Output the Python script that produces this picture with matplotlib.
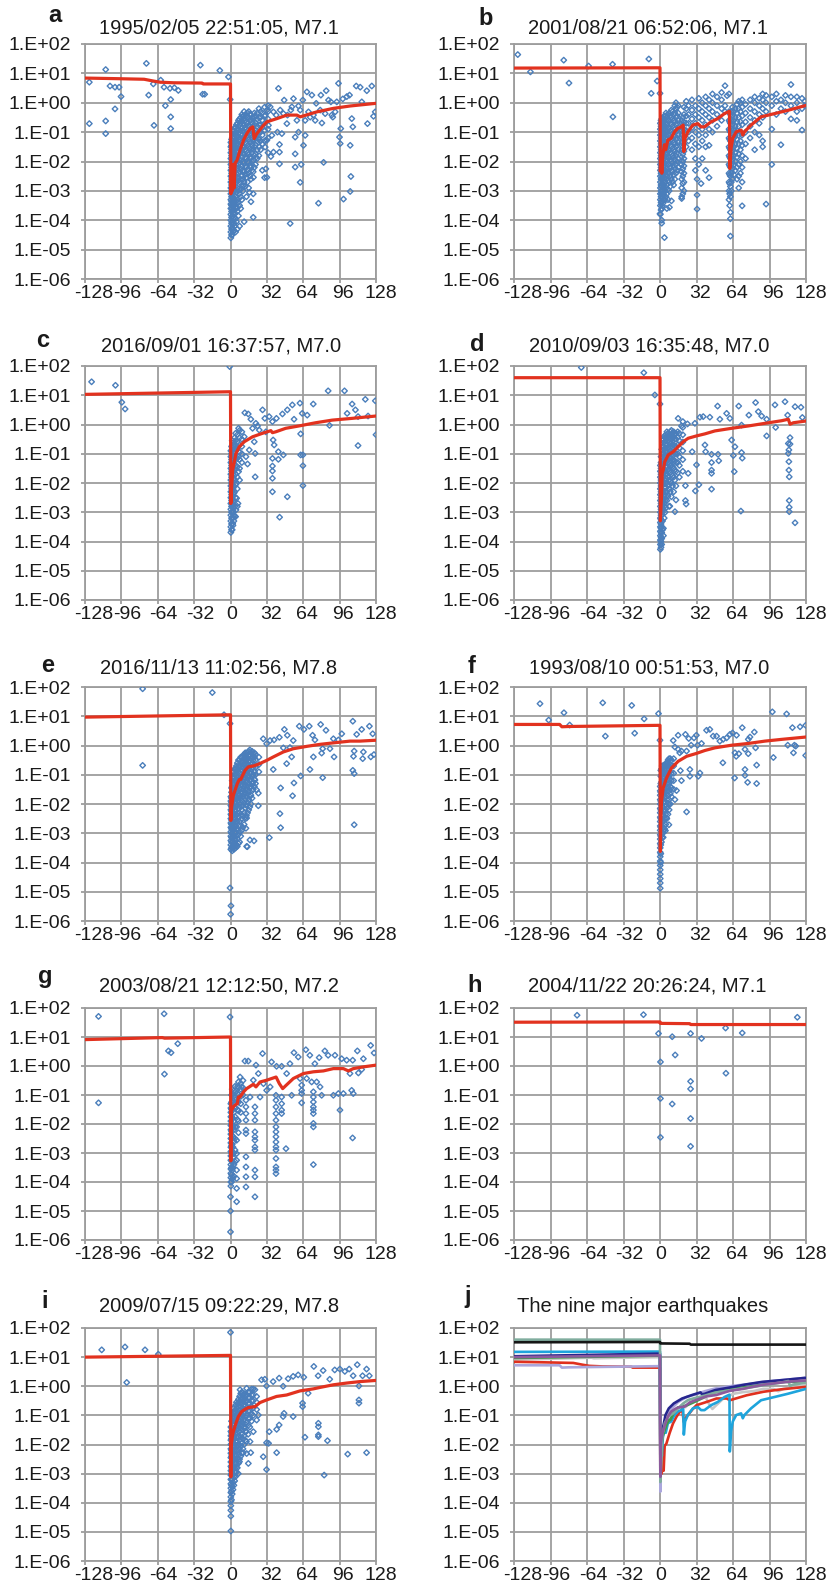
import numpy as np
import matplotlib
matplotlib.use("Agg")
import matplotlib.pyplot as plt
from matplotlib.ticker import FixedLocator, FuncFormatter, NullFormatter
from matplotlib.transforms import ScaledTranslation

plt.rcParams['font.family'] = ['Liberation Sans', 'DejaVu Sans']

# ---------------------------------------------------------------- data
# Scatter points are stored as (day, [log10 values ...]) columns.
TITLES = ["1995/02/05 22:51:05, M7.1", "2001/08/21 06:52:06, M7.1",
          "2016/09/01 16:37:57, M7.0", "2010/09/03 16:35:48, M7.0",
          "2016/11/13 11:02:56, M7.8", "1993/08/10 00:51:53, M7.0",
          "2003/08/21 12:12:50, M7.2", "2004/11/22 20:26:24, M7.1",
          "2009/07/15 09:22:29, M7.8", "The nine major earthquakes"]
LETTERS = list("abcdefghij")
X_TICKS = [-128, -96, -64, -32, 0, 32, 64, 96, 128]
Y_EXPONENTS = [2, 1, 0, -1, -2, -3, -4, -5, -6]

A_PTS = [
    (-124.2, [0.70, -0.71]), (-109.8, [1.13, -0.62, -1.05]), (-106.0, [0.57]),
    (-101.6, [0.53, -0.21]), (-98.0, [0.53]), (-96.3, [0.21]), (-74.0, [1.34]),
    (-72.0, [0.26]), (-67.9, [0.64]), (-67.3, [-0.77]), (-61.4, [0.77]),
    (-58.5, [0.53]), (-57.3, [-0.10]), (-53.2, [0.49]), (-52.6, [0.11, -0.48, -0.88]),
    (-49.4, [0.51]), (-45.9, [0.42]), (-26.5, [1.28]), (-24.5, [0.29]),
    (-22.7, [0.29]), (-9.4, [1.10]), (-1.8, [0.88]), (-0.3, [0.11]),
    (0.3, [-4.6, -4.4, -4.2, -4.0, -3.8, -3.6, -3.45, -3.3, -3.1, -2.9, -2.7, -2.5, -2.3, -2.1, -1.9, -1.7, -1.5, -1.35]),
    (1.5, [-4.5, -4.25, -4.05, -3.85, -3.6, -3.4, -3.2, -2.95, -2.75, -2.5, -2.3, -2.05, -1.85, -1.6, -1.4, -1.2]),
    (3.0, [-4.35, -4.1, -3.9, -3.65, -3.4, -3.15, -2.9, -2.65, -2.4, -2.15, -1.9, -1.65, -1.4, -1.15, -0.95]),
    (4.5, [-4.4, -3.95, -3.55, -3.2, -2.85, -2.5, -2.2, -1.9, -1.6, -1.35, -1.1, -0.85]),
    (6.0, [-4.3, -3.7, -3.3, -2.9, -2.55, -2.25, -1.95, -1.65, -1.4, -1.15, -0.9, -0.7]),
    (8.0, [-4.2, -3.5, -3.1, -2.7, -2.35, -2.05, -1.75, -1.5, -1.25, -1.0, -0.75, -0.55]),
    (10.0, [-3.3, -2.85, -2.5, -2.15, -1.85, -1.6, -1.35, -1.1, -0.85, -0.6, -0.4]),
    (12.0, [-4.05, -2.7, -2.35, -2.05, -1.75, -1.5, -1.25, -1.0, -0.75, -0.55, -0.3]),
    (14.0, [-3.2, -2.55, -2.2, -1.9, -1.65, -1.4, -1.15, -0.9, -0.65, -0.45]),
    (16.0, [-2.9, -2.4, -2.05, -1.75, -1.5, -1.25, -1.0, -0.8, -0.55, -0.3]),
    (18.0, [-3.37, -2.6, -2.2, -1.9, -1.6, -1.35, -1.1, -0.85, -0.6, -0.4]),
    (20.0, [-3.9, -3.1, -2.35, -1.95, -1.6, -1.3, -1.05, -0.8, -0.55]),
    (22.0, [-2.1, -1.75, -1.45, -1.2, -0.95, -0.7, -0.45]),
    (25.0, [-1.8, -1.5, -1.25, -1.0, -0.75, -0.5, -0.2]),
    (28.0, [-2.3, -1.4, -1.1, -0.85, -0.6, -0.35]),
    (30.0, [-2.55, -1.3, -0.95, -0.7, -0.45, -0.15]),
    (33.0, [-1.7, -1.2, -0.9, -0.55, -0.3, -0.1]),
    (11.4, [-2.82]), (14.4, [-2.42]), (16.7, [-3.05]), (20.2, [-2.54]), (22.6, [-1.85]),
    (24.6, [-1.22]), (30.5, [-0.42, -1.51]), (31.1, [-2.25]), (32.0, [-0.25, -1.28, -2.54]),
    (33.4, [-0.77]), (34.9, [-0.14]), (35.5, [-1.83]), (36.4, [-1.11]), (37.8, [-0.31, -1.68]),
    (40.2, [-0.42]), (41.3, [-1.0]), (42.2, [0.49]), (43.1, [-1.42, -1.68, -2.08]),
    (43.7, [-0.25]), (45.2, [-1.05]), (46.6, [-0.37]), (47.2, [0.09]), (49.6, [-0.71]),
    (50.1, [-0.42]), (52.5, [-4.11]), (53.1, [-0.25]), (54.0, [-0.14]), (55.4, [0.14]),
    (56.9, [-1.17, -1.74, -2.19]), (58.4, [-0.60]), (59.8, [-1.0, -0.11]), (61.3, [-2.71, -0.25]),
    (62.2, [-2.1]), (63.6, [0.09]), (64.2, [-1.45]), (65.7, [-0.60, -1.11]), (67.2, [0.37]),
    (68.6, [-0.31]), (70.1, [-0.49]), (71.6, [0.26]), (73.0, [-0.42]), (74.5, [-0.60]),
    (75.4, [-0.02]), (77.4, [-3.42]), (78.9, [-0.25]), (79.5, [0.26]), (80.4, [-0.69]),
    (81.9, [-2.03]), (83.3, [-0.37]), (84.2, [0.41]), (86.2, [0.09]), (88.3, [0.03]),
    (89.1, [-0.42]), (90.0, [-0.49]), (92.1, [-0.31]), (93.5, [0.03]), (95.0, [0.66]),
    (95.9, [-1.17]), (96.5, [-1.39]), (97.0, [-0.88]), (98.8, [0.13]), (99.4, [-3.28]),
    (102.3, [0.21]), (104.7, [0.26]), (105.3, [-1.45, -3.02]), (105.9, [-2.51]),
    (106.7, [-0.54]), (107.6, [-0.82]), (110.6, [0.57]), (114.1, [0.53]), (115.5, [0.03]),
    (119.9, [0.41]), (120.5, [-0.71]), (124.3, [0.57]), (125.8, [-0.46]), (127.3, [-0.31]),
]
A_DENSE = [
    (0.9, [-4.5, -4.3, -4.1, -3.9, -3.7, -3.5, -3.35, -3.2, -3.0, -2.8, -2.6, -2.4, -2.2, -2.0, -1.8, -1.6, -1.45, -1.25]),
    (2.2, [-4.4, -4.15, -3.95, -3.75, -3.5, -3.3, -3.05, -2.85, -2.6, -2.4, -2.2, -1.95, -1.75, -1.5, -1.3, -1.05]),
    (3.7, [-4.2, -3.75, -3.5, -3.3, -3.0, -2.75, -2.5, -2.3, -2.05, -1.8, -1.55, -1.3, -1.05, -0.85]),
    (5.2, [-4.05, -3.6, -3.35, -3.05, -2.7, -2.4, -2.1, -1.8, -1.5, -1.25, -1.0, -0.75]),
    (7.0, [-3.85, -3.4, -3.0, -2.65, -2.4, -2.1, -1.8, -1.55, -1.3, -1.05, -0.8, -0.6]),
    (9.0, [-3.6, -3.2, -2.95, -2.6, -2.25, -1.95, -1.7, -1.45, -1.2, -0.95, -0.7, -0.5]),
    (11.0, [-3.0, -2.6, -2.3, -2.0, -1.7, -1.45, -1.2, -0.95, -0.7, -0.45]),
    (13.0, [-2.85, -2.45, -2.15, -1.85, -1.6, -1.35, -1.1, -0.85, -0.6, -0.4]),
    (15.0, [-2.7, -2.3, -2.0, -1.7, -1.45, -1.2, -0.95, -0.7, -0.5, -0.35]),
    (17.0, [-2.5, -2.15, -1.85, -1.55, -1.3, -1.05, -0.8, -0.6, -0.4]),
    (19.0, [-2.3, -2.0, -1.7, -1.45, -1.2, -0.95, -0.7, -0.5]),
    (21.0, [-2.2, -1.8, -1.5, -1.25, -1.0, -0.75, -0.5, -0.35]),
    (23.5, [-1.9, -1.6, -1.3, -1.05, -0.8, -0.55, -0.35]),
    (26.5, [-1.6, -1.3, -1.0, -0.75, -0.5, -0.3]),
]
A_LINE_X = [-128, -100, -76, -68, -62, -50, -25, -24, -1, 0, 0.3, 1.0, 1.5, 2.5, 3.2, 4.1, 5.6, 8.5,
            11.4, 14.4, 17.3, 19.6, 20.8, 23.2, 29, 32, 40.8, 49.6, 58.4, 61.3, 76, 90.6, 105.3, 128]
A_LINE_L = [0.84, 0.82, 0.80, 0.74, 0.70, 0.68, 0.67, 0.64, 0.64, 0.64, -3.1, -2.2, -3.0, -2.1, -2.9,
            -2.05, -1.97, -1.6, -1.28, -1.05, -0.88, -0.82, -1.22, -1.05, -0.77, -0.65, -0.54, -0.42,
            -0.42, -0.48, -0.31, -0.19, -0.11, -0.02]

B_PTS = [
    (-124.7, [1.64]), (-113.6, [1.05]), (-84.4, [1.45]), (-79.8, [0.67]), (-62.6, [1.25]),
    (-41.6, [1.31]), (-41.3, [-0.48]), (-9.8, [1.49]), (-7.7, [0.32]), (-2.5, [0.74]), (0.0, [0.32, -3.78]),
    (0.3, [-3.8, -3.5, -3.3, -3.1, -2.9, -2.7, -2.5, -2.3, -2.1, -1.9, -1.7, -1.5, -1.3, -1.1, -0.9, -0.7]),
    (1.5, [-4.1, -3.6, -3.35, -3.1, -2.85, -2.6, -2.35, -2.1, -1.85, -1.6, -1.35, -1.1, -0.85, -0.55]),
    (1.6, [-4.0]), (3.9, [-4.59]),
    (3.0, [-3.4, -3.15, -2.9, -2.65, -2.4, -2.15, -1.9, -1.65, -1.4, -1.15, -0.9, -0.6]),
    (4.5, [-3.3, -3.0, -2.7, -2.45, -2.2, -1.95, -1.7, -1.45, -1.2, -0.95, -0.7, -0.45]),
    (6.0, [-3.6, -3.1, -2.8, -2.5, -2.25, -2.0, -1.75, -1.5, -1.25, -1.0, -0.75, -0.5]),
    (8.0, [-3.0, -2.7, -2.4, -2.1, -1.85, -1.6, -1.35, -1.1, -0.85, -0.6, -0.35]),
    (8.3, [-3.56]),
    (10.0, [-3.34, -2.6, -2.3, -2.0, -1.75, -1.5, -1.25, -1.0, -0.75, -0.5, -0.25]),
    (12.0, [-2.8, -2.45, -2.15, -1.85, -1.6, -1.35, -1.1, -0.85, -0.6, -0.4]),
    (14.0, [-2.4, -2.1, -1.8, -1.5, -1.25, -1.0, -0.75, -0.5, -0.2, 0.0]),
    (16.0, [-2.2, -1.9, -1.6, -1.35, -1.1, -0.85, -0.6, -0.35, -0.1]),
    (19.0, [-3.26, -3.2, -2.9, -2.6, -2.35, -2.1, -1.85, -1.6, -1.35, -1.1, -0.85, -0.6]),
    (21.0, [-3.0, -2.7, -2.4, -2.15, -1.9, -1.65, -1.4, -1.15, -0.9, -0.65, -0.4, -0.15]),
    (23.0, [-1.5, -1.2, -0.95, -0.7, -0.45, -0.2, 0.05]),
    (25.0, [-1.3, -1.0, -0.7, -0.4, -0.1]),
    (28.0, [-1.6, -1.2, -0.85, -0.55, -0.25, 0.1]),
    (31.0, [-2.3, -1.9, -1.4, -1.0, -0.7, -0.4, -0.1]),
    (32.5, [-3.62, -3.14, -2.6]),
    (34.0, [-2.1, -1.5, -1.1, -0.8, -0.5, -0.2, 0.15]),
    (36.0, [-2.75]),
    (37.0, [-1.9, -1.3, -0.9, -0.6, -0.3, 0.0]),
    (40.0, [-2.3, -1.5, -1.1, -0.75, -0.4, -0.1, 0.2]),
    (43.0, [-2.55, -1.45, -0.9, -0.5, -0.2, 0.1]),
    (46.0, [-1.0, -0.6, -0.3, 0.0, 0.3]),
    (50.0, [-0.8, -0.4, -0.1, 0.2]),
    (54.0, [-0.6, -0.2, 0.1, 0.35]),
    (57.0, [0.58, -0.3, -0.1]), (58.8, [0.24]),
    (60.5, [-3.3, -3.0, -2.7, -2.4, -2.1, -1.8, -1.5, -1.2, -0.9, -0.6, -0.3, 0.30]),
    (61.7, [-4.54, -3.95, -3.73, -3.2, -2.85, -2.5, -2.2, -1.9, -1.6, -1.3, -1.0, -0.7, -0.4]),
    (63.5, [-2.6, -2.25, -1.95, -1.65, -1.35, -1.05, -0.75, -0.45, -0.15]),
    (66.0, [-2.3, -2.0, -1.7, -1.4, -1.1, -0.8, -0.5, -0.2]),
    (69.0, [-2.9, -2.5, -2.1, -1.75, -1.4, -1.1, -0.8, -0.5, -0.2, 0.05]),
    (72.0, [-3.51, -2.7, -2.2, -1.8, -1.45, -1.1, -0.75, -0.45, -0.15, 0.1]),
    (75.0, [-1.9, -1.4, -1.0, -0.65, -0.35, -0.05]),
    (79.0, [-1.2, -0.8, -0.5, -0.2, 0.1]),
    (83.0, [-1.6, -1.0, -0.6, -0.3, 0.0, 0.2]),
    (87.0, [-1.1, -0.7, -0.4, -0.1, 0.15]),
    (90.0, [-1.5, -1.3, -0.5, -0.2, 0.1, 0.3]),
    (93.0, [-3.45, -0.3, 0.0, 0.25]),
    (98.0, [-2.1, -0.9, -0.1, 0.2]),
    (102.0, [-0.4, 0.05, 0.3]),
    (106.0, [-1.43, -0.2, 0.1]),
    (110.0, [-0.3, 0.0, 0.25]),
    (114.8, [0.62, -0.55, -0.1, 0.2]),
    (120.0, [-0.6, -0.3, 0.0, 0.2]),
    (124.5, [-0.93, -0.2, 0.15]),
    (127.0, [-0.1, 0.05]),
]
B_DENSE = [
    (0.9, [-3.65, -3.4, -3.2, -3.0, -2.8, -2.6, -2.4, -2.2, -2.0, -1.8, -1.6, -1.4, -1.2, -1.0, -0.8, -0.6]),
    (2.2, [-3.5, -3.25, -3.0, -2.75, -2.5, -2.25, -2.0, -1.75, -1.5, -1.25, -1.0, -0.75, -0.5]),
    (3.7, [-3.3, -3.05, -2.8, -2.55, -2.3, -2.05, -1.8, -1.55, -1.3, -1.05, -0.8, -0.55]),
    (5.2, [-3.2, -2.9, -2.6, -2.35, -2.1, -1.85, -1.6, -1.35, -1.1, -0.85, -0.6, -0.35]),
    (7.0, [-3.3, -2.95, -2.65, -2.35, -2.1, -1.85, -1.6, -1.35, -1.1, -0.85, -0.6, -0.4]),
    (9.0, [-2.85, -2.5, -2.2, -1.95, -1.7, -1.45, -1.2, -0.95, -0.7, -0.45]),
    (11.0, [-2.7, -2.35, -2.05, -1.8, -1.55, -1.3, -1.05, -0.8, -0.55, -0.3]),
    (13.0, [-2.6, -2.25, -1.95, -1.65, -1.4, -1.15, -0.9, -0.65, -0.35, -0.1]),
    (15.0, [-2.3, -2.0, -1.7, -1.45, -1.2, -0.95, -0.7, -0.45, -0.15]),
    (20.0, [-3.1, -2.75, -2.5, -2.25, -2.0, -1.75, -1.5, -1.25, -1.0, -0.75, -0.5]),
    (61.1, [-3.5, -3.1, -2.75, -2.45, -2.15, -1.85, -1.55, -1.25, -0.95, -0.65, -0.35]),
    (62.5, [-3.0, -2.7, -2.4, -2.1, -1.8, -1.5, -1.2, -0.9, -0.6, -0.3]),
    (64.8, [-2.45, -2.1, -1.8, -1.5, -1.2, -0.9, -0.6, -0.3]),
    (67.5, [-2.6, -2.2, -1.85, -1.55, -1.25, -0.95, -0.65, -0.35, -0.05]),
    (70.5, [-2.4, -2.0, -1.6, -1.3, -1.0, -0.65, -0.3, 0.0]),
]
B_LINE_X = [-128, 0, 0.3, 1.0, 1.6, 2.5, 3.9, 5.0, 6.9, 9.8, 12.7, 15.6, 18.5, 20.3, 20.9, 22, 24.4, 28.8,
            33.1, 36, 39, 44.8, 50.6, 56.5, 60.9, 61.2, 62.3, 63.8, 66.8, 71.1, 72.6, 74, 79.8, 88.6,
            100.3, 111.9, 128]
B_LINE_L = [1.18, 1.19, -2.33, -1.9, -2.4, -1.77, -1.43, -1.6, -1.27, -1.21, -0.99, -0.87, -0.82, -0.76,
            -1.66, -1.21, -0.99, -0.76, -0.71, -0.82, -0.82, -0.65, -0.54, -0.37, -0.29, -2.24, -1.55,
            -1.21, -0.99, -0.93, -1.10, -0.99, -0.76, -0.48, -0.37, -0.26, -0.09]

C_PTS = [
    (-122.2, [1.46]), (-101.2, [1.34]), (-95.6, [0.76]), (-92.7, [0.53]), (-0.7, [1.98]),
    (0.3, [-3.69, -3.5, -3.3, -3.1, -2.9, -2.7, -2.5, -2.3, -2.1, -1.9, -1.7, -1.5, -1.3, -1.1, -0.9]),
    (1.5, [-3.6, -3.4, -3.2, -3.0, -2.8, -2.55, -2.3, -2.05, -1.8, -1.55, -1.3, -1.05, -0.8, -0.55]),
    (1.9, [-3.38]), (3.6, [-3.15]), (4.8, [-2.92]),
    (3.0, [-3.3, -3.1, -2.85, -2.6, -2.35, -2.1, -1.85, -1.6, -1.35, -1.1, -0.85, -0.6]),
    (4.5, [-3.15, -2.5, -2.05, -1.7, -1.4, -1.1, -0.8, -0.55, -0.3]),
    (6.0, [-2.8, -2.2, -1.8, -1.45, -1.15, -0.85, -0.6, -0.35]),
    (8.0, [-1.9, -1.5, -1.2, -0.95, -0.7, -0.45, -0.2]),
    (10.0, [-1.3, -1.0, -0.75, -0.5, -0.25]),
    (5.4, [-2.01, -2.52]), (6.3, [-0.76]), (6.6, [-2.70]), (7.1, [-0.13, -1.10, -1.61]),
    (12.1, [-0.42]), (12.6, [0.40]), (13.6, [-1.10]), (15.0, [-1.35]), (15.6, [0.36]),
    (16.5, [-0.87]), (17.9, [0.18]), (19.4, [-0.13]), (20.9, [-0.59]), (21.7, [-1.79, -0.99]),
    (22.3, [0.04]), (23.8, [-0.05]), (25.3, [-0.19]), (28.2, [0.50]), (30.2, [0.21]),
    (31.1, [-0.25]), (34.0, [0.27]),
    (36.9, [0.10, -1.16, -1.42, -1.59, -1.84, -2.30]), (37.5, [-0.53]), (38.4, [-0.70]),
    (40.4, [0.21]), (42.1, [-0.93, -1.19]), (43.2, [-3.17]), (45.7, [0.36]), (46.5, [-1.04]),
    (50.0, [0.50, -2.47]), (54.4, [0.67]), (55.9, [0.18]), (61.1, [0.73]),
    (61.7, [-0.32, -1.04]), (63.1, [0.38]), (63.7, [-1.04, -1.41, -2.09]), (67.5, [0.32]),
    (72.8, [0.70]), (85.9, [1.15]), (87.1, [-0.03]), (100.3, [1.15]), (102.6, [0.38]),
    (107.0, [0.70]), (109.9, [0.50]), (112.2, [0.27, -0.72]), (118.6, [0.86]), (121.0, [0.29]),
    (127.4, [0.81]), (128.0, [-0.35]),
]
C_DENSE = [
    (0.9, [-3.6, -3.4, -3.2, -3.0, -2.8, -2.6, -2.4, -2.2, -2.0, -1.8, -1.6, -1.4, -1.2, -1.0, -0.75]),
    (2.2, [-3.45, -3.2, -2.95, -2.7, -2.45, -2.2, -1.95, -1.7, -1.45, -1.2, -0.95, -0.7]),
    (3.7, [-2.8, -2.3, -1.9, -1.55, -1.25, -0.95, -0.7, -0.45]),
]
C_LINE_X = [-128, 0, 0.3, 1.0, 1.9, 3.4, 4.8, 7.7, 12.1, 19.4, 28.2, 35.5, 36.9, 39.8, 48.6, 60.2,
            74.9, 89.5, 107, 128]
C_LINE_L = [1.03, 1.12, -2.70, -2.13, -1.56, -1.27, -0.99, -0.76, -0.59, -0.42, -0.30, -0.21, -0.28,
            -0.25, -0.13, -0.05, 0.06, 0.15, 0.21, 0.29]

D_PTS = [
    (-69.0, [1.95]), (-14.2, [1.77]), (-4.5, [1.01]), (0.0, [0.70]),
    (0.3, [-4.27, -4.1, -3.95, -3.8, -3.65, -3.5, -3.35, -3.2, -3.0, -2.8, -2.6, -2.4, -2.2, -2.0, -1.8, -1.6, -1.4]),
    (1.5, [-4.1, -3.9, -3.7, -3.5, -3.3, -3.1, -2.85, -2.6, -2.35, -2.1, -1.85, -1.6, -1.35, -1.1, -0.85]),
    (3.0, [-3.8, -3.55, -2.9, -2.6, -2.3, -2.0, -1.75, -1.5, -1.25, -1.0, -0.75, -0.5]),
    (3.7, [-2.70]),
    (4.5, [-3.0, -2.6, -2.3, -2.0, -1.7, -1.45, -1.2, -0.95, -0.7, -0.45]),
    (6.0, [-2.6, -2.3, -2.0, -1.7, -1.45, -1.2, -0.95, -0.7, -0.45, -0.25]),
    (8.0, [-2.8, -2.2, -1.9, -1.6, -1.35, -1.1, -0.85, -0.6, -0.35]),
    (8.6, [-2.79]),
    (10.0, [-2.47, -2.0, -1.7, -1.4, -1.15, -0.9, -0.65, -0.4, -0.2]),
    (12.0, [-2.3, -1.8, -1.5, -1.2, -0.95, -0.7, -0.45, -0.25]),
    (13.1, [-2.98]),
    (14.0, [-2.58, -2.1, -1.6, -1.3, -1.0, -0.75, -0.5, -0.3]),
    (15.9, [0.21]),
    (17.0, [-1.8, -1.4, -1.1, -0.8, -0.55, -0.3]),
    (18.8, [-0.05]),
    (20.0, [-1.6, -1.2, -0.9, -0.6, -0.35, -0.1, 0.1]),
    (22.3, [-2.09, -2.60]), (22.9, [-2.72]), (24.1, [0.02]), (24.7, [-1.67]), (28.2, [-0.93]),
    (30.6, [0.04]), (31.0, [-2.27]), (32.0, [-1.38]), (34.1, [-2.06]), (35.0, [0.25]),
    (37.9, [0.27]), (39.4, [-0.70]), (40.0, [-0.93]), (43.7, [0.25]),
    (45.2, [-1.02, -1.30, -1.56, -1.67, -2.21]), (50.5, [0.63]), (50.9, [-1.02]), (51.5, [-1.24]),
    (52.5, [0.18]), (58.4, [0.38]), (61.3, [0.21]), (62.8, [-0.53]), (64.3, [-1.06]),
    (65.1, [-1.61]), (65.7, [-0.76]), (69.0, [0.63]), (70.9, [-2.96]), (71.5, [-0.02, -0.96]),
    (72.1, [-1.15]), (77.9, [0.32]), (83.8, [0.75]), (86.2, [0.44]), (89.1, [0.29]),
    (93.5, [0.18, -0.39]), (100.8, [0.67]), (101.4, [-0.10]), (109.6, [0.78]), (111.9, [0.32]),
    (112.5, [-0.65, -0.99]), (113.0, [-0.87, -1.27, -1.56]), (113.3, [-1.79, -2.60, -2.83, -2.98]),
    (114.0, [-0.67, -0.45]), (118.4, [0.61, -3.36]), (123.6, [0.59]), (124.8, [0.24]),
]
D_DENSE = [
    (0.9, [-4.2, -4.0, -3.85, -3.7, -3.55, -3.4, -3.25, -3.1, -2.9, -2.7, -2.5, -2.3, -2.1, -1.9, -1.7, -1.5, -1.3, -1.1]),
    (2.2, [-3.6, -3.3, -3.0, -2.75, -2.5, -2.25, -2.0, -1.75, -1.5, -1.25, -1.0, -0.75, -0.55]),
    (3.7, [-3.2, -2.8, -2.45, -2.15, -1.9, -1.6, -1.35, -1.1, -0.85, -0.6, -0.4]),
    (5.2, [-2.85, -2.45, -2.15, -1.85, -1.6, -1.3, -1.05, -0.8, -0.55, -0.35]),
    (7.0, [-2.45, -2.1, -1.8, -1.55, -1.3, -1.05, -0.8, -0.55, -0.3]),
    (9.0, [-2.3, -1.95, -1.65, -1.4, -1.15, -0.9, -0.65, -0.45, -0.25]),
    (11.0, [-2.1, -1.75, -1.45, -1.2, -0.95, -0.7, -0.45, -0.3]),
    (13.0, [-1.9, -1.55, -1.25, -1.0, -0.75, -0.5, -0.3]),
    (15.5, [-1.65, -1.3, -1.0, -0.7, -0.45, -0.25]),
]
D_LINE_X = [-128, 0, 0.3, 1.3, 1.9, 2.8, 4.2, 7.2, 11.6, 15.9, 20.3, 24.7, 32, 39.4, 48.1, 62.8, 77.4,
            92, 106.7, 112.5, 114, 116.9, 128]
D_LINE_L = [1.60, 1.60, -3.29, -2.47, -1.67, -1.56, -1.27, -1.04, -0.93, -0.76, -0.59, -0.47, -0.39,
            -0.32, -0.22, -0.13, -0.05, 0.04, 0.13, 0.18, 0.01, 0.06, 0.12]

E_PTS = [
    (-77.3, [1.94, -0.68]), (-16.0, [1.81]), (-5.7, [1.05]), (-0.4, [0.75, -4.87]),
    (0.4, [-5.48]), (0.1, [-5.77]),
    (0.3, [-3.55, -3.4, -3.25, -3.1, -2.95, -2.8, -2.65, -2.5, -2.35, -2.2, -2.05, -1.9, -1.75]),
    (1.5, [-3.6, -3.45, -3.3, -3.15, -3.0, -2.8, -2.6, -2.4, -2.2, -2.0, -1.8, -1.6, -1.4, -1.2]),
    (3.0, [-3.55, -3.35, -3.1, -2.85, -2.6, -2.35, -2.1, -1.85, -1.6, -1.35, -1.1, -0.9]),
    (4.5, [-3.5, -3.25, -3.0, -2.75, -2.5, -2.25, -2.0, -1.75, -1.5, -1.25, -1.0, -0.8]),
    (6.0, [-3.45, -3.2, -2.9, -2.6, -2.3, -2.05, -1.8, -1.55, -1.3, -1.05, -0.8, -0.6]),
    (8.0, [-3.3, -2.95, -2.6, -2.3, -2.0, -1.7, -1.45, -1.2, -0.95, -0.7, -0.5]),
    (8.4, [-1.74]),
    (10.0, [-2.9, -2.5, -2.2, -1.9, -1.6, -1.35, -1.1, -0.85, -0.6, -0.4]),
    (12.0, [-2.7, -2.3, -1.95, -1.65, -1.4, -1.15, -0.9, -0.65, -0.45, -0.3]),
    (12.8, [-1.63]), (13.6, [-2.83]), (14.2, [-3.45, -2.48]), (14.8, [-3.46]),
    (14.0, [-2.4, -2.05, -1.75, -1.5, -1.25, -1.0, -0.75, -0.5, -0.3]),
    (16.0, [-2.2, -1.85, -1.55, -1.3, -1.05, -0.8, -0.55, -0.35, -0.2]),
    (17.1, [-3.23]),
    (18.0, [-2.0, -1.7, -1.4, -1.15, -0.9, -0.65, -0.45, -0.25]),
    (20.0, [-1.5, -1.25, -1.0, -0.75, -0.5, -0.3]),
    (20.7, [-3.26]), (21.5, [-1.18]),
    (22.0, [-1.3, -1.0, -0.75, -0.5, -0.3]), (23.0, [-1.52]),
    (24.5, [-2.06, -1.63]), (25.0, [-0.9, -0.65, -0.4]),
    (28.8, [0.23]), (31.8, [0.06]), (34.2, [-3.15]), (34.8, [0.17]), (37.6, [-0.82]),
    (38.3, [0.19]), (43.0, [0.28]), (43.5, [-2.33]), (44.1, [-1.45, -2.81]), (46.5, [-0.08]),
    (47.4, [0.55]), (49.4, [-0.62]), (50.0, [0.35]), (52.3, [-0.07]), (53.8, [-0.39]),
    (54.6, [-1.72]), (55.2, [0.17]), (55.8, [-1.28]), (60.5, [0.66]), (61.7, [-1.04]),
    (64.6, [0.55]), (69.3, [0.66]), (69.9, [-0.82]), (72.2, [0.35]), (72.9, [-0.39]),
    (74.3, [0.19]), (79.3, [0.72]), (80.2, [-0.26]), (81.1, [-0.11, -1.10]), (84.0, [0.52]),
    (87.5, [-0.11]), (90.5, [0.23]), (91.1, [-0.39]), (94.9, [0.19]), (97.9, [0.40]),
    (107.6, [0.83, -0.85]), (108.2, [-0.37]), (108.8, [-0.19, -0.96, -2.71]), (111.0, [0.38]),
    (115.4, [0.55]), (116.3, [-0.45]), (116.9, [-0.22]), (122.2, [0.66]), (123.4, [-0.39]),
    (125.1, [0.40]), (126.2, [-0.31]),
]
E_DENSE = [
    (0.9, [-3.5, -3.3, -3.15, -3.0, -2.85, -2.7, -2.55, -2.4, -2.25, -2.1, -1.95, -1.8, -1.6, -1.45]),
    (2.2, [-3.5, -3.3, -3.05, -2.9, -2.7, -2.5, -2.3, -2.1, -1.9, -1.7, -1.5, -1.3, -1.05]),
    (3.7, [-3.45, -3.2, -2.95, -2.7, -2.45, -2.2, -1.95, -1.7, -1.45, -1.2, -1.0, -0.8]),
    (5.2, [-3.4, -3.1, -2.85, -2.6, -2.35, -2.1, -1.85, -1.6, -1.4, -1.15, -0.9, -0.7]),
    (7.0, [-3.35, -3.05, -2.75, -2.45, -2.15, -1.9, -1.65, -1.4, -1.15, -0.9, -0.7, -0.5]),
    (9.0, [-3.1, -2.75, -2.4, -2.1, -1.8, -1.5, -1.25, -1.0, -0.75, -0.55, -0.4]),
    (11.0, [-2.8, -2.4, -2.05, -1.75, -1.5, -1.25, -1.0, -0.75, -0.55, -0.35]),
    (13.0, [-2.5, -2.15, -1.85, -1.6, -1.35, -1.1, -0.85, -0.6, -0.4, -0.25]),
    (15.0, [-2.3, -1.95, -1.65, -1.4, -1.15, -0.9, -0.65, -0.45, -0.25]),
    (17.0, [-2.1, -1.75, -1.45, -1.2, -0.95, -0.7, -0.5, -0.3, -0.15]),
    (19.0, [-1.8, -1.55, -1.3, -1.05, -0.8, -0.6, -0.4, -0.2]),
    (21.0, [-1.4, -1.15, -0.9, -0.65, -0.4, -0.25]),
]
E_LINE_X = [-128, 0, 0.3, 1.0, 2.5, 4.0, 6.0, 7.8, 9.0, 10.7, 12.8, 15.7, 20.1, 24.5, 31.8, 37.7, 46.5,
            55.3, 67, 78.8, 90.5, 105.1, 113.9, 128]
E_LINE_L = [0.97, 1.05, -2.56, -2.10, -1.70, -1.53, -1.30, -1.16, -1.16, -1.02, -0.85, -0.73, -0.70,
            -0.64, -0.51, -0.39, -0.22, -0.11, -0.03, 0.04, 0.09, 0.15, 0.15, 0.18]

F_PTS = [
    (-105.2, [1.43]), (-97.6, [0.87]), (-84.2, [1.12]), (-79.2, [0.70]), (-50.2, [1.46]),
    (-47.9, [0.32]), (-24.8, [1.37]), (-22.2, [0.42]), (-13.9, [0.91]), (-1.3, [1.09]), (0.0, [0.18]),
    (0.2, [-4.88, -4.7, -4.55, -4.4, -4.25, -4.1, -3.95, -3.8, -3.65, -3.5, -3.35, -3.2, -3.05,
           -2.9, -2.75, -2.6, -2.45, -2.3, -2.15, -2.0, -1.85, -1.7, -1.55, -1.4]),
    (1.3, [-3.3, -3.0, -2.75, -2.5, -2.25, -2.0, -1.75, -1.5, -1.25, -1.0, -0.8]),
    (2.5, [-3.0, -2.7, -2.4, -2.1, -1.85, -1.6, -1.35, -1.1, -0.9, -0.7]),
    (2.8, [-3.14]),
    (4.0, [-2.85, -2.5, -2.2, -1.9, -1.6, -1.35, -1.1, -0.85, -0.65]),
    (4.8, [-2.91]), (5.7, [-2.48]),
    (6.0, [-2.5, -2.15, -1.85, -1.55, -1.3, -1.05, -0.8, -0.6]),
    (7.8, [-2.71]),
    (8.0, [-2.2, -1.85, -1.55, -1.3, -1.05, -0.8, -0.6, -0.45]),
    (8.6, [-2.0]),
    (10.0, [-1.75, -1.45, -1.2, -0.95, -0.7, -0.5]),
    (11.6, [0.17]),
    (12.0, [-1.5, -1.2, -0.95, -0.7, -0.45]),
    (13.0, [-0.05]), (13.1, [-1.85]), (14.5, [-1.54]), (15.9, [0.35, -0.13]), (17.3, [-0.25]),
    (17.9, [-0.86]), (18.8, [-0.19, -1.20]), (22.3, [0.38]), (23.3, [-0.19, -2.27]),
    (25.2, [0.24]), (26.2, [-0.82, -1.05]), (27.3, [0.01]), (29.8, [0.26]), (31.9, [0.35]),
    (32.9, [0.01]), (33.6, [-1.05]), (35.0, [-0.94]), (36.4, [0.07]), (40.8, [0.52]),
    (43.7, [0.55]), (46.6, [0.32]), (49.6, [0.32]), (52.5, [0.15]), (55.1, [-0.59]),
    (55.4, [0.21]), (58.4, [0.26]), (61.3, [0.38]), (63.6, [0.43]), (65.4, [-1.11]),
    (65.7, [-0.25]), (66.8, [-0.37]), (67.1, [0.35]), (69.1, [-0.28]), (72.1, [0.61]),
    (74.5, [-0.13, -0.82, -1.02]), (76.8, [-1.26]), (77.4, [0.21, -0.28]), (78.9, [0.29]),
    (82.7, [0.46]), (83.8, [-0.08]), (84.7, [-0.67, -1.30]), (98.5, [1.15]), (99.4, [-0.41]),
    (111.0, [1.08]), (112.0, [0.01]), (116.1, [0.61]), (117.0, [-0.25]), (117.8, [0.01]),
    (119.0, [-0.02]), (122.8, [0.64]), (127.7, [0.69, -0.34]),
]
F_DENSE = [
    (0.7, [-4.0, -3.7, -3.4, -3.1, -2.8, -2.5, -2.2, -1.9, -1.6, -1.3, -1.05, -0.85]),
    (1.9, [-3.15, -2.85, -2.6, -2.35, -2.1, -1.85, -1.6, -1.35, -1.1, -0.9, -0.7]),
    (3.3, [-2.9, -2.55, -2.25, -1.95, -1.7, -1.45, -1.2, -0.95, -0.75]),
    (5.0, [-2.7, -2.35, -2.05, -1.75, -1.45, -1.2, -0.95, -0.7]),
    (7.0, [-2.35, -2.0, -1.7, -1.45, -1.2, -0.95, -0.7, -0.5]),
    (9.0, [-2.0, -1.65, -1.4, -1.15, -0.9, -0.65, -0.45]),
]
F_LINE_X = [-128, -88, -86, -80, 0, 0.3, 0.7, 1.3, 2.8, 5.7, 10.1, 15.9, 23.3, 32, 39.4, 48.1, 62.8,
            77.4, 92, 106.7, 128]
F_LINE_L = [0.72, 0.72, 0.64, 0.65, 0.69, -3.62, -2.59, -1.91, -1.45, -1.11, -0.77, -0.54, -0.37,
            -0.27, -0.17, -0.08, 0.01, 0.07, 0.15, 0.21, 0.29]

G_PTS = [
    (-116.1, [1.71, -1.27]), (-58.4, [1.80]), (-58.1, [-0.28]), (-54.6, [0.52]), (-52.3, [0.46]),
    (-46.4, [0.77]), (-0.4, [1.69]), (0.0, [-5.72, -5.0, -4.51]),
    (0.3, [-4.14, -4.0, -3.85, -3.7, -3.55, -3.4, -3.25, -3.1, -2.95, -2.8, -2.65, -2.5, -2.35,
           -2.2, -2.05, -1.9, -1.75, -1.6, -1.45, -1.3]),
    (1.5, [-3.9, -3.6, -3.3, -3.0, -2.7, -2.4, -2.1, -1.8, -1.5, -1.25, -1.0, -0.8]),
    (3.0, [-3.8, -3.4, -3.0, -2.6, -2.2, -1.9, -1.6, -1.3, -1.05, -0.85]),
    (5.4, [-2.10, -2.56, -3.02, -3.25, -3.59, -3.88, -4.22, -4.68]),
    (7.0, [-2.3, -1.9, -1.55, -1.25, -1.0, -0.75, -0.55]),
    (8.4, [-0.38]), (9.0, [-1.6, -1.3, -1.05, -0.8, -0.6]), (9.8, [-0.72]),
    (11.0, [-1.0, -0.75, -0.5]), (12.7, [0.17]),
    (13.6, [-1.18, -1.41, -1.64, -1.87, -2.21, -2.33, -3.13, -3.48, -3.82, -4.17]),
    (15.6, [0.17]), (17.2, [-1.07]), (20.1, [-0.49]),
    (21.5, [-1.41, -1.64, -1.87, -2.27, -2.44, -2.56, -2.79, -2.90, -3.59, -3.82, -4.51]),
    (22.4, [0.03]), (24.5, [-0.26]), (26.0, [-1.07]), (28.2, [0.43]), (29.0, [-0.61]),
    (31.8, [-0.84]), (34.9, [-0.72]), (36.1, [0.14]),
    (40.0, [-1.01, -1.18, -1.41, -1.64, -1.87, -2.10, -2.27, -2.44, -2.62, -2.79, -2.90, -3.19,
            -3.48, -3.59, -3.71]),
    (40.5, [-0.01]), (45.0, [-0.01, -1.07, -1.30, -1.52, -1.64]), (48.8, [-2.85]), (49.4, [-0.26]),
    (52.3, [0.08]), (53.8, [-1.01]), (55.8, [0.46]), (59.6, [0.31]), (61.2, [-0.43]),
    (62.6, [-0.66, -0.84, -0.95, -1.27]), (66.3, [0.56]), (67.0, [-0.43]), (69.8, [0.37]),
    (71.4, [-0.55]),
    (72.9, [-0.89, -1.07, -1.24, -1.41, -1.52, -1.64, -1.98, -2.10, -3.40]),
    (74.2, [0.08]), (75.8, [-0.55]), (78.0, [0.29]), (78.8, [-0.72]), (80.2, [-1.01]),
    (83.0, [0.52]), (85.9, [0.37]), (90.5, [-1.01]), (91.9, [0.37]), (94.9, [-0.95]),
    (96.3, [-1.52]), (97.8, [0.25]), (99.3, [-0.95]), (102.2, [0.20]), (105.1, [-0.26]),
    (106.6, [-0.84]), (107.4, [-2.48]), (107.5, [0.20]), (108.0, [-0.95]), (111.6, [0.52]),
    (112.5, [-0.24]), (115.4, [-0.12]), (116.9, [0.25]), (123.3, [0.71]), (126.3, [0.45]),
]
G_DENSE = [
    (0.9, [-4.0, -3.75, -3.5, -3.25, -3.0, -2.75, -2.5, -2.25, -2.0, -1.75, -1.5, -1.25, -1.0]),
    (2.2, [-3.85, -3.5, -3.15, -2.8, -2.45, -2.1, -1.8, -1.5, -1.2, -0.95]),
    (4.0, [-3.3, -2.9, -2.5, -2.1, -1.75, -1.45, -1.15, -0.9, -0.7]),
    (6.2, [-1.85, -1.5, -1.2, -0.95, -0.7]),
]
G_LINE_X = [-128, -60, -58, 0, 0.3, 0.5, 1.0, 2.5, 4.0, 6.0, 6.9, 8.4, 11.3, 14.2, 20.1, 22.4, 26, 31.8,
            36.3, 40.1, 43, 45.9, 48.8, 55.3, 64.1, 72.9, 81.7, 90.5, 99.3, 103.7, 108, 116.9, 128]
G_LINE_L = [0.91, 0.98, 0.96, 1.0, -3.27, -1.64, -1.52, -1.41, -1.35, -1.30, -1.07, -1.07, -0.90, -0.78,
            -0.63, -0.72, -0.55, -0.49, -0.43, -0.38, -0.61, -0.78, -0.67, -0.43, -0.26, -0.20, -0.17,
            -0.09, -0.09, -0.17, -0.09, -0.03, 0.03]

H_PTS = [
    (-72.7, [1.75]), (-14.5, [1.77]), (-1.3, [1.12]), (0.4, [0.14, -1.12, -2.46]),
    (10.7, [1.01, -1.31]), (13.3, [0.38]), (26.8, [1.12, -0.53, -0.79, -1.81, -2.77]),
    (36.4, [0.95]), (57.5, [1.31]), (57.8, [-0.25]), (72.1, [1.14]), (120.4, [1.68]),
]
H_DENSE = []
H_LINE_X = [-128, 0, 0.3, 26, 27, 128]
H_LINE_L = [1.51, 1.52, 1.47, 1.46, 1.43, 1.43]

I_PTS = [
    (-113.3, [1.25]), (-92.8, [1.35]), (-91.3, [0.13]), (-75.2, [1.25]), (-63.5, [1.10]),
    (0.0, [1.85]),
    (0.3, [-4.97, -4.46, -4.26, -4.1, -3.95, -3.8, -3.65, -3.5, -3.35, -3.2, -3.05, -2.9, -2.75,
           -2.6, -2.45, -2.3, -2.15, -2.0, -1.85, -1.7, -1.55, -1.4]),
    (1.5, [-3.7, -3.45, -3.2, -2.95, -2.7, -2.45, -2.2, -1.95, -1.7, -1.45, -1.2, -1.0]),
    (3.0, [-3.4, -3.1, -2.8, -2.5, -2.2, -1.95, -1.7, -1.45, -1.2, -0.95, -0.75]),
    (4.5, [-3.1, -2.8, -2.5, -2.2, -1.9, -1.65, -1.4, -1.15, -0.9, -0.65]),
    (6.0, [-2.8, -2.5, -2.2, -1.9, -1.6, -1.35, -1.1, -0.85, -0.6]),
    (6.9, [-3.0]), (7.9, [-2.59]),
    (8.0, [-2.5, -2.15, -1.85, -1.55, -1.3, -1.05, -0.8, -0.55, -0.35]),
    (8.4, [-0.12]),
    (10.0, [-2.3, -1.95, -1.65, -1.35, -1.1, -0.85, -0.6, -0.4, -0.2]),
    (11.3, [-2.28]),
    (12.0, [-2.0, -1.7, -1.4, -1.15, -0.9, -0.65, -0.45, -0.25]),
    (14.0, [-1.9, -1.55, -1.25, -1.0, -0.75, -0.5, -0.3]),
    (14.2, [-0.07, -2.31]), (15.7, [-2.65]), (17.2, [-1.90]), (17.8, [-2.28]),
    (17.0, [-1.4, -1.1, -0.85, -0.6, -0.4, -0.2]),
    (20.0, [-1.0, -0.75, -0.5, -0.3, -0.1]), (20.1, [-1.56]), (21.5, [-0.12]),
    (23.0, [-0.8, -0.55, -0.35, -1.16]), (24.5, [-0.99]), (27.3, [0.22]), (28.8, [-2.42]),
    (30.2, [0.24]), (31.7, [0.01, -1.94, -2.86]), (33.5, [-1.96]), (34.1, [-1.56]),
    (37.5, [0.16]), (40.6, [-2.28, -1.48]), (42.8, [0.28, -1.33]), (46.3, [0.0, -1.04]),
    (47.1, [-0.93]), (50.7, [0.26]), (55.1, [0.34, -1.04]), (59.5, [0.39]),
    (63.4, [-0.58, -0.70]), (64.5, [0.31]), (65.5, [-1.75]), (68.3, [-0.24]), (73.3, [0.68]),
    (77.1, [0.36]), (77.3, [-1.27, -1.39, -1.67, -1.73]), (81.5, [0.54]), (82.4, [-3.05]),
    (85.3, [-1.87]), (87.3, [0.24]), (91.7, [0.56]), (96.2, [0.59]), (100.6, [0.51]),
    (103.1, [-2.33]), (104.4, [0.59]), (107.9, [0.36]), (111.5, [0.74]),
    (113.0, [0.01, -0.47, -0.58]), (116.2, [0.36]), (119.7, [0.59, -2.28]), (122.1, [0.36]),
]
I_DENSE = [
    (0.9, [-3.9, -3.6, -3.4, -3.2, -3.0, -2.8, -2.6, -2.4, -2.2, -2.0, -1.8, -1.6, -1.4, -1.2]),
    (2.2, [-3.55, -3.3, -3.05, -2.8, -2.55, -2.3, -2.05, -1.8, -1.55, -1.3, -1.1, -0.9]),
    (3.7, [-3.25, -2.95, -2.65, -2.35, -2.05, -1.8, -1.55, -1.3, -1.05, -0.85]),
    (5.2, [-2.95, -2.65, -2.35, -2.05, -1.75, -1.5, -1.25, -1.0, -0.75, -0.55]),
    (7.0, [-2.65, -2.35, -2.05, -1.75, -1.45, -1.2, -0.95, -0.7, -0.45]),
    (9.0, [-2.4, -2.05, -1.75, -1.45, -1.2, -0.95, -0.7, -0.45, -0.25]),
    (11.0, [-2.15, -1.8, -1.5, -1.25, -1.0, -0.75, -0.5, -0.3]),
    (13.0, [-1.85, -1.55, -1.3, -1.05, -0.8, -0.55, -0.35]),
    (15.5, [-1.65, -1.35, -1.1, -0.85, -0.6, -0.4, -0.2]),
    (18.5, [-1.2, -0.95, -0.7, -0.5, -0.3, -0.1]),
]
I_LINE_X = [-128, 0, 0.3, 0.4, 1.6, 2.5, 4.8, 6.9, 9.8, 12.8, 15.7, 21.5, 26, 31.8, 40.5, 49.4, 61.1,
            72.9, 78.8, 90.5, 102.2, 113.9, 128]
I_LINE_L = [1.0, 1.06, -3.11, -2.08, -1.73, -1.56, -1.27, -1.04, -0.87, -0.79, -0.73, -0.70, -0.56,
            -0.47, -0.35, -0.30, -0.16, -0.09, -0.04, 0.05, 0.11, 0.16, 0.20]

PANEL_POINTS = [A_PTS + A_DENSE, B_PTS + B_DENSE, C_PTS + C_DENSE, D_PTS + D_DENSE,
                E_PTS + E_DENSE, F_PTS + F_DENSE, G_PTS + G_DENSE, H_PTS + H_DENSE,
                I_PTS + I_DENSE]
PANEL_LINES = [(A_LINE_X, A_LINE_L), (B_LINE_X, B_LINE_L), (C_LINE_X, C_LINE_L),
               (D_LINE_X, D_LINE_L), (E_LINE_X, E_LINE_L), (F_LINE_X, F_LINE_L),
               (G_LINE_X, G_LINE_L), (H_LINE_X, H_LINE_L), (I_LINE_X, I_LINE_L)]
# line colours of the combined panel, one per earthquake (a..i)
SUMMARY_COLORS = ['#e0301e', '#1ea4dc', '#26268f', '#80ad9e', '#3f9b4a',
                  '#aaa6dc', '#c6c6c6', '#151515', '#8c5a9c']
SUMMARY_ORDER = [6, 0, 1, 4, 5, 2, 3, 7, 8]

# ---------------------------------------------------------------- layout (pixels)
W, H = 835, 1586
COLS = [(85, 376), (514, 806)]
ROWS = [(44, 279), (366, 600), (687, 921), (1008, 1240), (1328, 1561)]
TITLE_POS = [(219, 33.5), (648, 34), (221, 351.5), (649, 351), (219, 673), (649, 673),
             (219, 992), (647, 992), (219, 1312), (643, 1312)]
LETTER_POS = [(55, 22), (486, 25), (43, 347), (477, 351), (48, 672), (472, 673),
              (45, 983), (475, 992), (45, 1308), (468, 1303)]
# horizontal nudge (px) of each x tick label, as the labels sit in the chart
XLABEL_SHIFT = [9, 6, 6, 6, 1, 4, 4, 3, 5]

GRID = '#9d9d9d'
TEXT = '#1a1a1a'
RED = '#e2321f'
BLUE = '#4a7ebb'
TICK_FS = 14

fig = plt.figure(figsize=(W / 100, H / 100), dpi=100)


def expand(cols):
    xs, ys = [], []
    for x, logs in cols:
        for v in logs:
            xs.append(x)
            ys.append(10.0 ** v)
    return np.array(xs), np.array(ys)


def style_axes(ax):
    ax.set_yscale('log')
    ax.set_xlim(-128, 128)
    ax.set_ylim(1e-6, 1e2)
    ax.xaxis.set_major_locator(FixedLocator(X_TICKS))
    ax.xaxis.set_major_formatter(NullFormatter())
    ax.yaxis.set_major_locator(FixedLocator([10.0 ** e for e in Y_EXPONENTS]))
    ax.yaxis.set_minor_locator(FixedLocator([]))
    ax.yaxis.set_major_formatter(
        FuncFormatter(lambda v, p: "1.E{:+03d}".format(int(round(np.log10(v))))))
    ax.grid(True, color=GRID, linewidth=1.3)
    ax.set_axisbelow(True)
    for s in ax.spines.values():
        s.set_color(GRID)
        s.set_linewidth(1.3)
    ax.tick_params(axis='both', which='major', direction='out', length=3, width=1.3,
                   color=GRID, labelsize=TICK_FS, labelcolor=TEXT)
    ax.tick_params(axis='y', pad=7)
    # x tick labels placed as text so each can carry its own nudge
    trans = ax.get_xaxis_transform()
    for xt, dx in zip(X_TICKS, XLABEL_SHIFT):
        off = ScaledTranslation(dx / 100, -6 / 100, fig.dpi_scale_trans)
        ax.text(xt, 0, f"{xt}", transform=trans + off, ha='center', va='top',
                fontsize=TICK_FS, color=TEXT, clip_on=False)


for k in range(10):
    r, c = divmod(k, 2)
    (x0, x1), (y0, y1) = COLS[c], ROWS[r]
    ax = fig.add_axes([x0 / W, 1 - y1 / H, (x1 - x0) / W, (y1 - y0) / H])
    style_axes(ax)
    if k < 9:
        px, py = expand(PANEL_POINTS[k])
        ax.scatter(px, py, marker='D', s=8, facecolor='none', edgecolor=BLUE,
                   linewidths=1.0, zorder=3)
        lx, ll = PANEL_LINES[k]
        ax.plot(lx, 10.0 ** np.array(ll), color=RED, lw=2.3, zorder=4,
                solid_joinstyle='round')
    else:
        for idx in SUMMARY_ORDER:
            lx, ll = PANEL_LINES[idx]
            ax.plot(lx, 10.0 ** np.array(ll), color=SUMMARY_COLORS[idx], lw=1.9, zorder=3)
    tx, ty = TITLE_POS[k]
    fig.text(tx / W, 1 - ty / H, TITLES[k], ha='center', va='baseline', fontsize=14.5, color=TEXT)
    lx_, ly_ = LETTER_POS[k]
    fig.text(lx_ / W, 1 - ly_ / H, LETTERS[k], ha='center', va='baseline', fontsize=17,
             fontweight='bold', color=TEXT)

fig.savefig('out.png', dpi=100)
